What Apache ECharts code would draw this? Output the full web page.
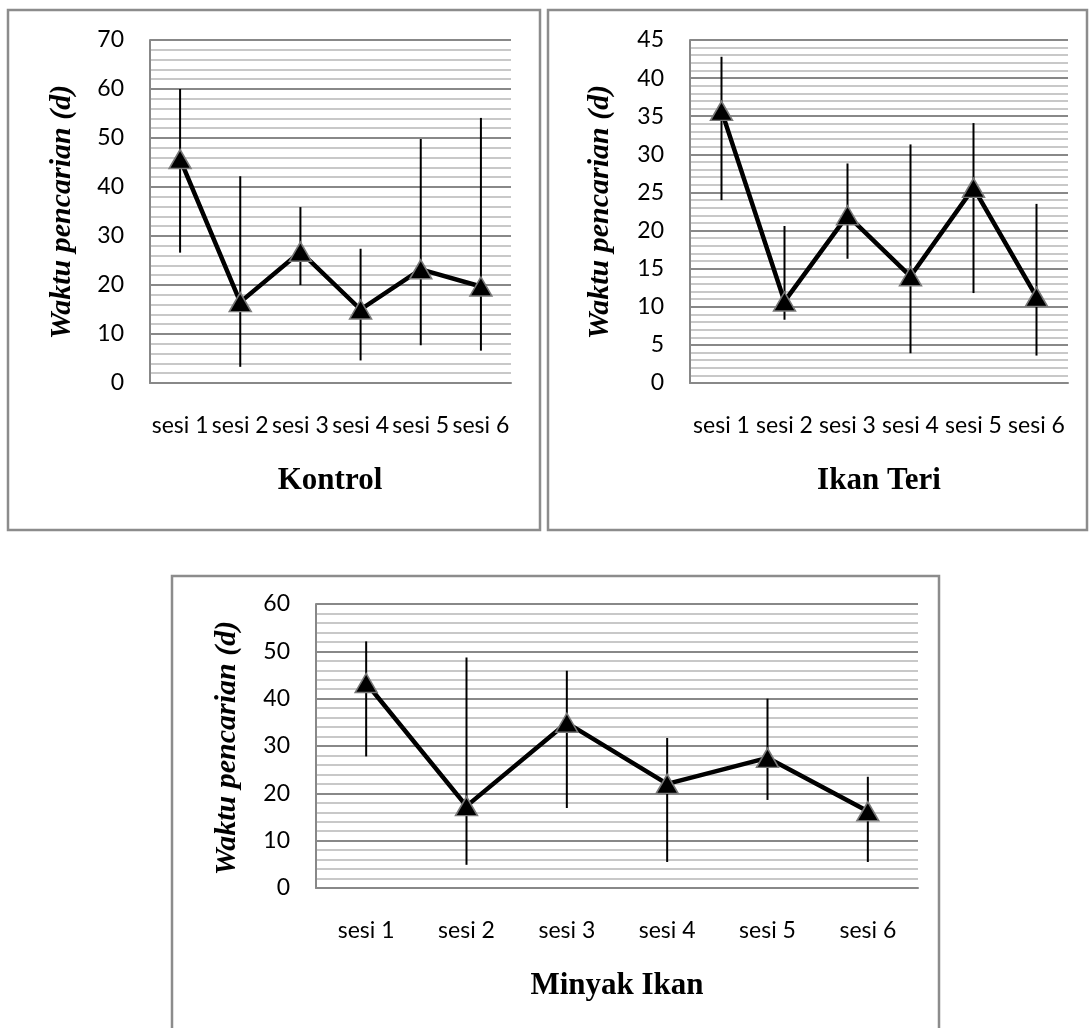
<!DOCTYPE html>
<html>
<head>
<meta charset="utf-8">
<script src="https://cdn.jsdelivr.net/npm/echarts@6/dist/echarts.min.js"></script>
<style>
html,body{margin:0;padding:0;background:#fff;}
#chart{width:1092px;height:1028px;}
</style>
</head>
<body>
<div id="chart"></div>
<script>
const categories = ['sesi 1', 'sesi 2', 'sesi 3', 'sesi 4', 'sesi 5', 'sesi 6'];

const kontrolMean = [45.7, 16.5, 26.8, 15.0, 23.2, 19.7];
const kontrolLow  = [26.6, 3.3, 20.0, 4.6, 7.7, 6.6];
const kontrolHigh = [60.0, 42.2, 35.9, 27.4, 49.8, 54.1];

const teriMean = [35.7, 10.7, 22.0, 14.0, 25.6, 11.3];
const teriLow  = [24.0, 8.3, 16.3, 3.9, 11.8, 3.6];
const teriHigh = [42.8, 20.6, 28.8, 31.3, 34.1, 23.5];

const minyakMean = [43.3, 17.3, 34.9, 22.0, 27.5, 16.2];
const minyakLow  = [27.8, 4.9, 16.9, 5.5, 18.6, 5.5];
const minyakHigh = [52.1, 48.7, 45.9, 31.7, 40.0, 23.5];

const panelTitles = ['Kontrol', 'Ikan Teri', 'Minyak Ikan'];
const yTitle = 'Waktu pencarian (d)';
const yMax = [70, 45, 60];
const yInterval = [10, 5, 10];

const tickFont = 'Lato, "Open Sans", sans-serif';
const serif = '"Liberation Serif", "DejaVu Serif", serif';

const grids = [
  {left: 150, top: 40, width: 361, height: 343},
  {left: 690, top: 40, width: 378, height: 343},
  {left: 316, top: 604, width: 602, height: 284}
];

const means = [kontrolMean, teriMean, minyakMean];
const lows = [kontrolLow, teriLow, minyakLow];
const highs = [kontrolHigh, teriHigh, minyakHigh];

const xAxes = grids.map((g, i) => ({
  type: 'category', gridIndex: i, data: categories,
  boundaryGap: true,
  axisLine: {show: true, lineStyle: {color: '#888', width: 2}},
  axisTick: {show: false},
  axisLabel: {interval: 0, color: '#000', fontFamily: tickFont, fontSize: 23, margin: 31}
}));

const yAxes = grids.map((g, i) => ({
  type: 'value', gridIndex: i, min: 0, max: yMax[i], interval: yInterval[i],
  axisLine: {show: true, lineStyle: {color: '#888', width: 2}},
  axisTick: {show: false},
  axisLabel: {color: '#000', fontFamily: tickFont, fontSize: 23, margin: 26},
  splitLine: {show: true, lineStyle: {color: '#888888', width: 2}},
  minorTick: {show: false, splitNumber: 5},
  minorSplitLine: {show: true, lineStyle: {color: '#c8c8c8', width: 2}}
}));

const series = [];
for (let i = 0; i < 3; i++) {
  series.push({
    type: 'custom', xAxisIndex: i, yAxisIndex: i, z: 2,
    renderItem: function (params, api) {
      const x = api.value(0);
      const lo = api.coord([x, api.value(1)]);
      const hi = api.coord([x, api.value(2)]);
      return {type: 'line', shape: {x1: lo[0], y1: lo[1], x2: hi[0], y2: hi[1]},
              style: {stroke: '#000', lineWidth: 2}};
    },
    encode: {x: 0, y: [1, 2]},
    data: categories.map((c, k) => [k, lows[i][k], highs[i][k]])
  });
  series.push({
    type: 'line', xAxisIndex: i, yAxisIndex: i, z: 3,
    data: means[i],
    symbol: 'triangle', symbolSize: [22, 19],
    showAllSymbol: true,
    lineStyle: {color: '#000', width: 4.5},
    itemStyle: {color: '#000', borderColor: '#7a7a7a', borderWidth: 1.5},
    emphasis: {disabled: true},
    animation: false
  });
}

const boxes = [
  {x: 8, y: 10, w: 532, h: 520},
  {x: 548, y: 10, w: 539, h: 520},
  {x: 172, y: 576, w: 767, h: 470}
];

const graphic = [];
boxes.forEach(b => graphic.push({
  type: 'rect', z: -10, silent: true,
  shape: {x: b.x, y: b.y, width: b.w, height: b.h},
  style: {fill: 'none', stroke: '#8c8c8c', lineWidth: 2.5}
}));
const yTitlePos = [[62, 212], [600, 212], [227, 748]];
yTitlePos.forEach(p => graphic.push({
  type: 'text', x: p[0], y: p[1], rotation: Math.PI / 2, silent: true,
  style: {text: yTitle, align: 'center', verticalAlign: 'middle',
          font: 'italic bold 30px ' + serif, fill: '#000'}
}));
const titlePos = [[330, 481], [879, 481], [617, 986]];
titlePos.forEach((p, i) => graphic.push({
  type: 'text', x: p[0], y: p[1], silent: true,
  style: {text: panelTitles[i], align: 'center', verticalAlign: 'middle',
          font: 'bold 31px ' + serif, fill: '#000'}
}));

const chart = echarts.init(document.getElementById('chart'), null, {renderer: 'canvas'});
chart.setOption({
  animation: false,
  backgroundColor: '#fff',
  grid: grids.map(g => Object.assign({containLabel: false}, g)),
  xAxis: xAxes,
  yAxis: yAxes,
  series: series,
  graphic: graphic
});
</script>
</body>
</html>
